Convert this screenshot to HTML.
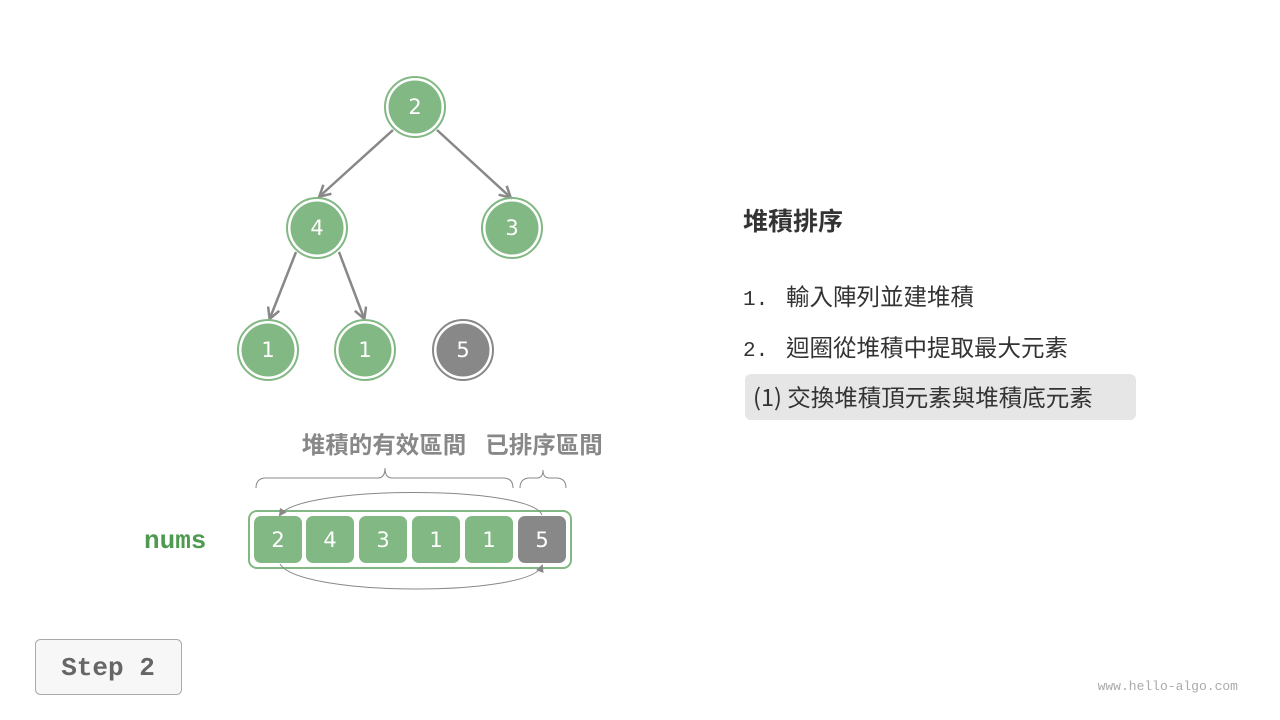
<!DOCTYPE html>
<html><head><meta charset="utf-8"><style>
body{margin:0;width:1280px;height:720px;background:#fff;overflow:hidden;font-family:"Liberation Sans","Noto Sans CJK TC",sans-serif;}
</style></head><body>
<svg width="1280" height="720" xmlns="http://www.w3.org/2000/svg" style="position:absolute;left:0;top:0">
<defs><marker id="a" markerWidth="14" markerHeight="14" refX="11" refY="7" orient="auto" markerUnits="userSpaceOnUse"><path d="M1,1 L12,7 L1,13" fill="none" stroke="#888" stroke-width="2.5"/></marker>
<marker id="b" markerWidth="8" markerHeight="8" refX="6" refY="4" orient="auto" markerUnits="userSpaceOnUse"><path d="M0,0 L8,4 L0,8 z" fill="#888"/></marker></defs>
<g stroke="#888" stroke-width="2.5" marker-end="url(#a)">
<line x1="393" y1="130" x2="320" y2="196"/>
<line x1="437" y1="130" x2="510" y2="197"/>
<line x1="296" y1="252" x2="270" y2="318"/>
<line x1="339" y1="252" x2="364" y2="318"/>
</g>
<g font-family="'DejaVu Sans',sans-serif" font-size="21" fill="#fff" text-anchor="middle">
<g fill="#82b883"><circle cx="415" cy="107" r="30" fill="none" stroke="#82b883" stroke-width="2"/><circle cx="415" cy="107" r="26.5"/>
<circle cx="317" cy="228" r="30" fill="none" stroke="#82b883" stroke-width="2"/><circle cx="317" cy="228" r="26.5"/>
<circle cx="512" cy="228" r="30" fill="none" stroke="#82b883" stroke-width="2"/><circle cx="512" cy="228" r="26.5"/>
<circle cx="268" cy="350" r="30" fill="none" stroke="#82b883" stroke-width="2"/><circle cx="268" cy="350" r="26.5"/>
<circle cx="365" cy="350" r="30" fill="none" stroke="#82b883" stroke-width="2"/><circle cx="365" cy="350" r="26.5"/></g>
<circle cx="463" cy="350" r="30" fill="none" stroke="#888" stroke-width="2"/><circle cx="463" cy="350" r="26.5" fill="#888"/>
<text x="415" y="114">2</text><text x="317" y="235">4</text><text x="512" y="235">3</text><text x="268" y="357">1</text><text x="365" y="357">1</text><text x="463" y="357">5</text>
</g>
<text x="384" y="453" font-size="23.5" font-weight="bold" fill="#888" text-anchor="middle" font-family="'Noto Sans CJK TC',sans-serif">堆積的有效區間</text>
<text x="544" y="453" font-size="23.5" font-weight="bold" fill="#888" text-anchor="middle" font-family="'Noto Sans CJK TC',sans-serif">已排序區間</text>
<path d="M256,488 Q256,478 266,478 L378,478 Q385,478 385,468 Q385,478 392,478 L503,478 Q513,478 513,488" fill="none" stroke="#888" stroke-width="1"/>
<path d="M520,488 Q520,478 530,478 L537,478 Q543,478 543,470 Q543,478 549,478 L556,478 Q566,478 566,488" fill="none" stroke="#888" stroke-width="1"/>
<rect x="249" y="511" width="322" height="57" rx="8" fill="none" stroke="#82b883" stroke-width="2"/>
<g fill="#82b883"><rect x="254" y="516" width="48" height="47" rx="7"/><rect x="306" y="516" width="48" height="47" rx="7"/><rect x="359" y="516" width="48" height="47" rx="7"/><rect x="412" y="516" width="48" height="47" rx="7"/><rect x="465" y="516" width="48" height="47" rx="7"/></g>
<rect x="518" y="516" width="48" height="47" rx="7" fill="#888"/>
<g font-family="'DejaVu Sans',sans-serif" font-size="21" fill="#fff" text-anchor="middle">
<text x="278" y="547">2</text><text x="330" y="547">4</text><text x="383" y="547">3</text><text x="436" y="547">1</text><text x="489" y="547">1</text><text x="542" y="547">5</text></g>
<path d="M542,515 C530,485 300,485 280,515" fill="none" stroke="#888" stroke-width="1" marker-end="url(#b)"/>
<path d="M280,564 C300,597 530,597 542,566" fill="none" stroke="#888" stroke-width="1" marker-end="url(#b)"/>
<text x="144" y="548" font-family="'Liberation Mono',monospace" font-weight="bold" font-size="26" fill="#4e9a50">nums</text>
<text x="743" y="230" font-size="25" font-weight="bold" fill="#333" font-family="'Noto Sans CJK TC',sans-serif">堆積排序</text>
<text x="743" y="305" font-size="23.5" fill="#333"><tspan font-family="'Liberation Mono',monospace" font-size="21">1. </tspan><tspan x="786" font-family="'Noto Sans CJK TC',sans-serif">輸入陣列並建堆積</tspan></text>
<text x="743" y="356" font-size="23.5" fill="#333"><tspan font-family="'Liberation Mono',monospace" font-size="21">2. </tspan><tspan x="786" font-family="'Noto Sans CJK TC',sans-serif">迴圈從堆積中提取最大元素</tspan></text>
<rect x="745" y="374" width="391" height="46" rx="6" fill="#e6e6e6"/>
<text x="753" y="406" font-size="23.5" fill="#333" font-family="'Noto Sans CJK TC',sans-serif">(1) 交換堆積頂元素與堆積底元素</text>
<rect x="35.5" y="639.5" width="146" height="55" rx="5" fill="#f7f7f7" stroke="#aaa" stroke-width="1"/>
<text x="108" y="675" text-anchor="middle" font-family="'Liberation Mono',monospace" font-weight="bold" font-size="26" fill="#666">Step 2</text>
<text x="1238" y="690" text-anchor="end" font-family="'Liberation Mono',monospace" font-size="13" fill="#aaa">www.hello-algo.com</text>
</svg>
</body></html>
